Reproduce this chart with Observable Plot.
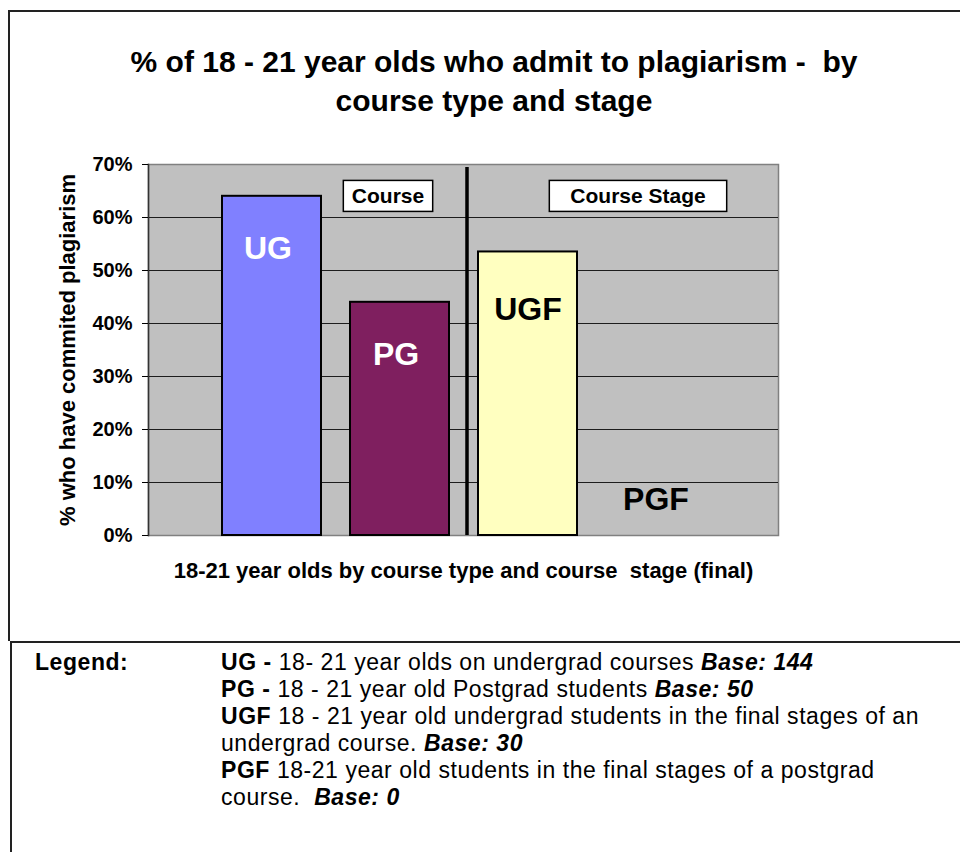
<!DOCTYPE html>
<html>
<head>
<meta charset="utf-8">
<script src="https://cdn.jsdelivr.net/npm/d3@7"></script>
<script src="https://cdn.jsdelivr.net/npm/@observablehq/plot@0.6"></script>
<style>
  html, body { margin: 0; padding: 0; background: #fff; }
  body { width: 960px; height: 852px; position: relative; overflow: hidden;
         font-family: "Liberation Sans", Arial, Helvetica, sans-serif; color: #000; }
  #upper { position: absolute; left: 8px; top: 10px; width: 960px; height: 631px;
           border-top: 2px solid #222; border-left: 2px solid #222; box-sizing: border-box; }
  #lower { position: absolute; left: 10px; top: 641px; width: 960px; height: 220px;
           border-top: 2px solid #222; border-left: 2px solid #222; box-sizing: border-box; }
  #title { position: absolute; left: 28px; width: 932px; top: 42px; text-align: center;
           font-weight: bold; font-size: 30px; line-height: 39px; white-space: pre; }
  #chart { position: absolute; left: 0; top: 130px; }
  #legendHead { position: absolute; left: 35px; top: 649px; font-weight: bold; font-size: 23px; letter-spacing: 0.55px; line-height: 27px; }
  #legend { position: absolute; left: 221px; top: 649px; width: 730px; font-size: 23px; letter-spacing: 0.55px; line-height: 27px; }
  #legend div { margin: 0; height: 27px; white-space: pre; }
</style>
</head>
<body>
<div id="upper"></div>
<div id="lower"></div>
<div id="title"></div>
<div id="chart"></div>
<div id="legendHead"></div>
<div id="legend"></div>
<script>
// ---- data ----
const titleLines = ["% of 18 - 21 year olds who admit to plagiarism -  by", "course type and stage"];
const categories = ["UG", "PG", "UGF", "PGF"];
const values = [64, 44, 53.5, 0];
const yTicks = [0, 10, 20, 30, 40, 50, 60, 70];
const yLabel = "% who have commited plagiarism";
const xLabel = "18-21 year olds by course type and course  stage (final)";
const groupNames = ["Course", "Course Stage"];
const groupAnchors = ["PG", "PGF"];
const legendTitle = "Legend:";
const legendCodes = ["UG - ", "PG - ", "UGF ", "PGF "];
const legendTexts = [
  "18- 21 year olds on undergrad courses ",
  "18 - 21 year old Postgrad students ",
  "18 - 21 year old undergrad students in the final stages of an\nundergrad course. ",
  "18-21 year old students in the final stages of a postgrad\ncourse.  "
];
const legendBases = ["Base: 144", "Base: 50", "Base: 30", "Base: 0"];

// ---- styles ----
const FONT = '"Liberation Sans", Arial, Helvetica, sans-serif';
const barColors = ["#8080ff", "#7f1f5f", "#ffffc0", "#c0c0c0"];
const whiteLabel = new Set(["UG", "PG"]);

document.getElementById("title").textContent = titleLines.join("\n");
document.getElementById("legendHead").textContent = legendTitle;
const leg = d3.select("#legend");
legendCodes.forEach((c, i) => {
  const parts = legendTexts[i].split("\n");
  let row = leg.append("div");
  row.append("b").text(c);
  parts.forEach((p, j) => {
    if (j > 0) row = leg.append("div");
    row.append("span").text(p);
  });
  row.append("b").append("i").text(legendBases[i]);
});

const data = categories.map((c, i) => ({cat: c, value: values[i]}));
const groups = groupNames.map((g, i) => ({name: g, at: groupAnchors[i]}));

const nb = s => s.replace(/  /g, " \u00a0");

const plot = Plot.plot({
  width: 960,
  height: 465,
  marginLeft: 148,
  marginRight: 182,
  marginTop: 34,
  marginBottom: 60,
  style: {fontFamily: FONT, background: "transparent", fontWeight: "bold", color: "#000"},
  x: {domain: categories, paddingInner: 0.23, paddingOuter: 0.57},
  y: {domain: [0, 70]},
  color: {domain: categories, range: barColors},
  marks: [
    Plot.frame({fill: "#c0c0c0", stroke: "#808080", strokeWidth: 1.5}),
    Plot.ruleY(yTicks.filter(t => t > 0 && t < 70), {stroke: "#000", strokeWidth: 1.2, strokeOpacity: 0.85}),
    Plot.frame({anchor: "left", stroke: "#333", strokeWidth: 1.5}),
    Plot.barY(data.filter(d => d.value > 0), {x: "cat", y: "value", fill: "cat", stroke: "#000", strokeWidth: 2}),
    Plot.ruleX(["UGF"], {x: d => d, y1: 0, y2: 70, dx: -61, stroke: "#000", strokeWidth: 3.5, insetBottom: -3}),
    Plot.text(data.filter(d => d.value > 0 && whiteLabel.has(d.cat)), {x: "cat", y: "value", text: "cat", dy: 52, dx: -4, fill: "#fff", fontSize: 32, fontWeight: "bold"}),
    Plot.text(data.filter(d => d.value > 0 && !whiteLabel.has(d.cat)), {x: "cat", y: "value", text: "cat", dy: 58, fill: "#000", fontSize: 32, fontWeight: "bold"}),
    Plot.text(data.filter(d => d.value === 0), {x: "cat", y: "value", text: "cat", dy: -36, fill: "#000", fontSize: 32, fontWeight: "bold"}),
    Plot.text(groups.slice(0, 1), {x: "at", text: "name", frameAnchor: "top", dy: 24, dx: -12, fontSize: 21, fontWeight: "bold", fill: "#000"}),
    Plot.text(groups.slice(1), {x: "at", text: "name", frameAnchor: "top", dy: 24, dx: -18, fontSize: 21, fontWeight: "bold", fill: "#000"}),
    Plot.axisY({ticks: yTicks, tickFormat: d => d + "%", tickSize: 6, tickPadding: 10, fontSize: 20, fontWeight: "bold",
                label: yLabel, labelAnchor: "center", labelOffset: 89, labelArrow: "none"}),
    Plot.axisX({tickSize: 0, tickFormat: () => "", fontSize: 19, fontWeight: "bold",
                label: nb(xLabel), labelAnchor: "center", labelOffset: 42, labelArrow: "none"})
  ]
});
document.getElementById("chart").append(plot);

// axis label font sizes
d3.select(plot).selectAll("g[aria-label='y-axis label'] text, g[aria-label='x-axis label'] text")
  .attr("font-size", 22).attr("font-weight", "bold");

// white boxes behind the group labels
const pads = {"Course": 8.5, "Course Stage": 21};
d3.select(plot).selectAll("text").each(function () {
  const label = this.textContent;
  if (!(label in pads)) return;
  const bb = this.getBBox();
  const cy = bb.y + bb.height / 2;
  const r = document.createElementNS("http://www.w3.org/2000/svg", "rect");
  r.setAttribute("x", bb.x - pads[label]);
  r.setAttribute("width", bb.width + 2 * pads[label]);
  r.setAttribute("y", cy - 15.5);
  r.setAttribute("height", 31);
  r.setAttribute("fill", "#fff");
  r.setAttribute("stroke", "#000");
  r.setAttribute("stroke-width", 1.5);
  const tr = this.getAttribute("transform");
  if (tr) r.setAttribute("transform", tr);
  this.parentNode.insertBefore(r, this);
});
</script>
</body>
</html>
